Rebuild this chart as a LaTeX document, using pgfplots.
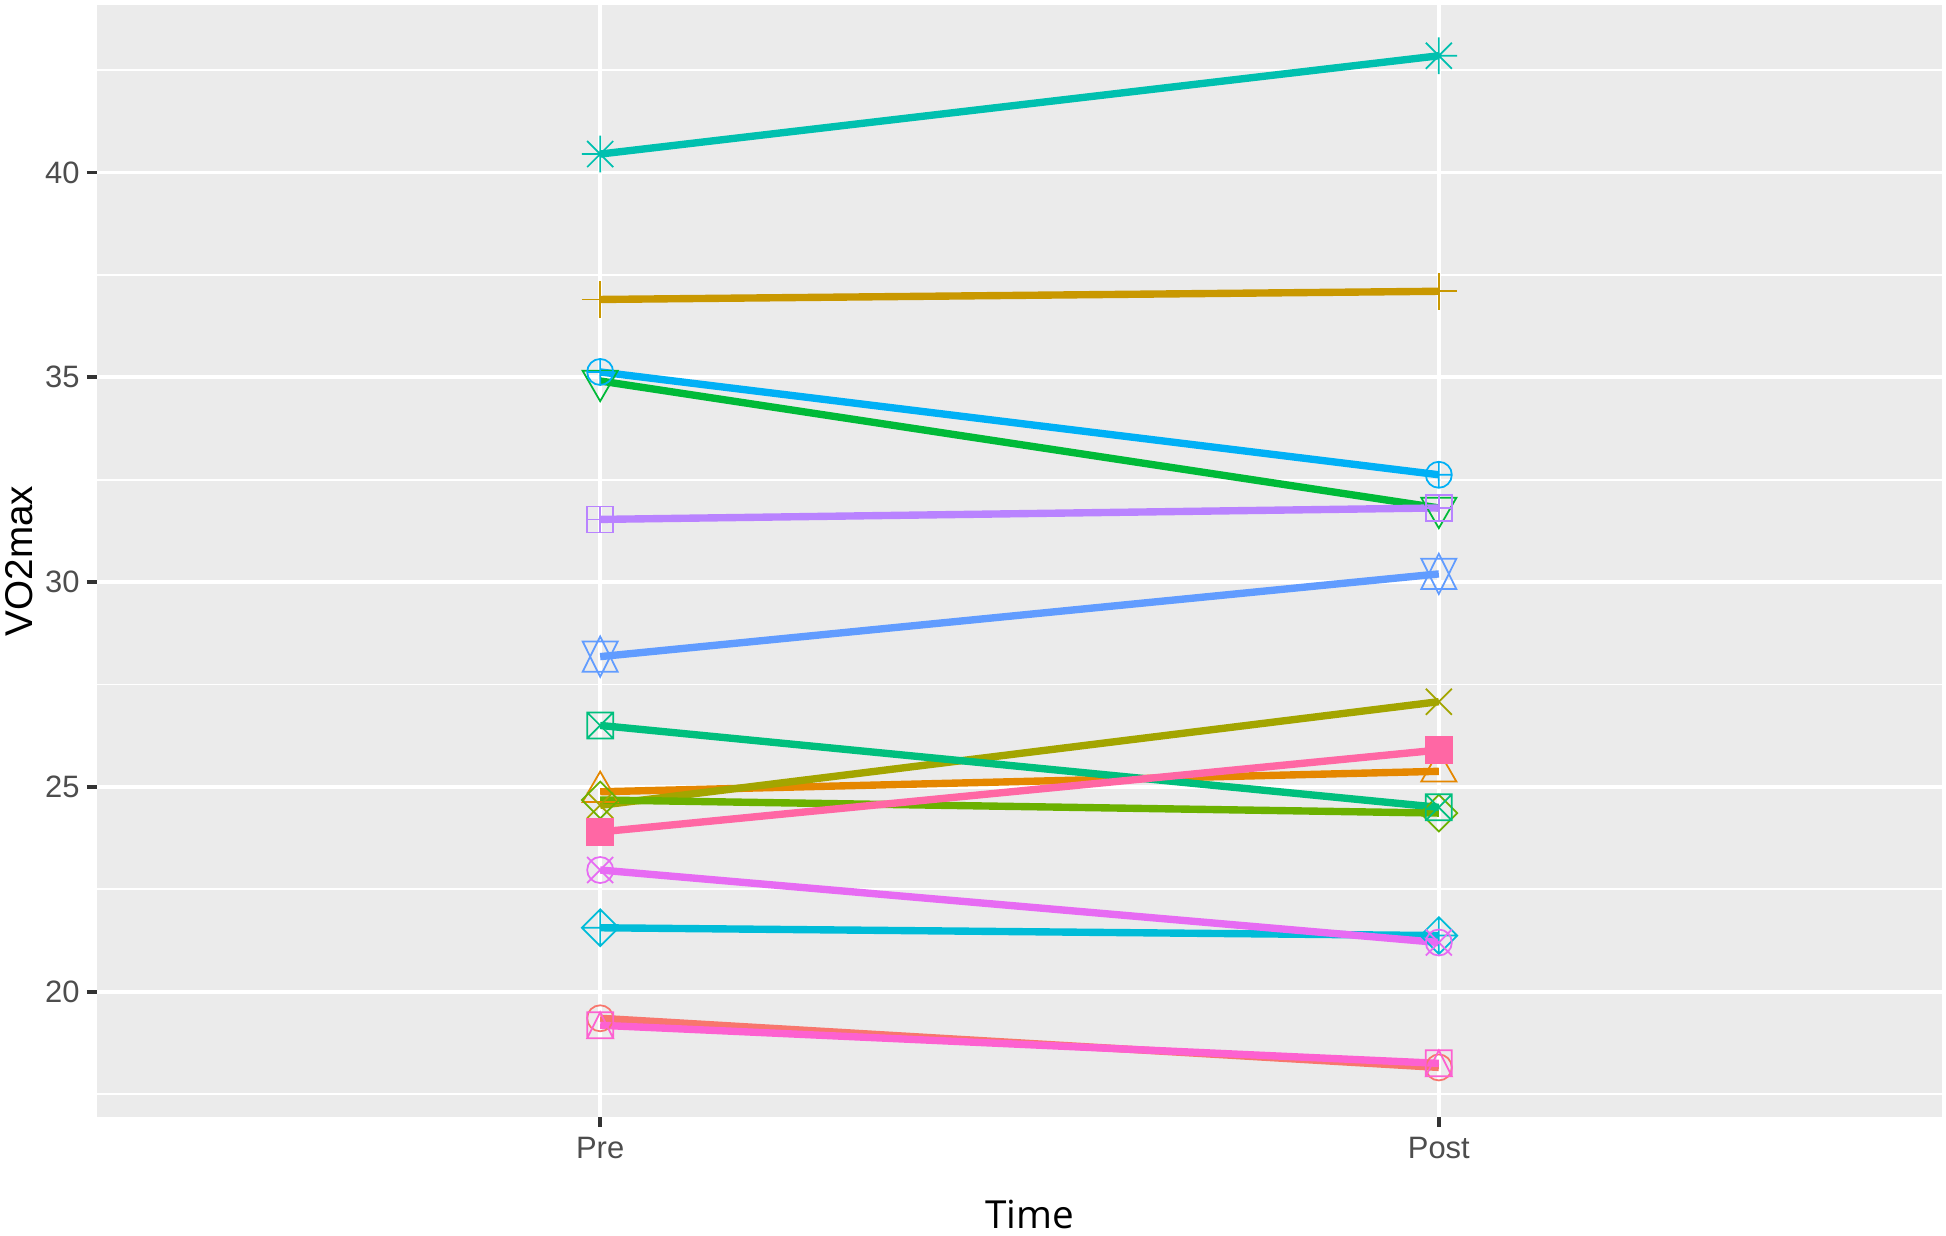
\documentclass[border=0pt]{standalone}
\usepackage{fontspec}
\setmainfont{Liberation Sans}
\newfontfamily\timefont{Open Sans}
\usepackage{pgfplots}
\usepackage{pgfplotstable}
\pgfplotsset{compat=1.18}

\definecolor{c1}{HTML}{F8766D}
\definecolor{c2}{HTML}{E58700}
\definecolor{c3}{HTML}{C99800}
\definecolor{c4}{HTML}{A3A500}
\definecolor{c5}{HTML}{6BB100}
\definecolor{c6}{HTML}{00BA38}
\definecolor{c7}{HTML}{00BF7D}
\definecolor{c8}{HTML}{00C0AF}
\definecolor{c9}{HTML}{00BCD8}
\definecolor{c10}{HTML}{00B0F6}
\definecolor{c11}{HTML}{619CFF}
\definecolor{c12}{HTML}{B983FF}
\definecolor{c13}{HTML}{E76BF3}
\definecolor{c14}{HTML}{FD61D1}
\definecolor{c15}{HTML}{FF67A4}
\definecolor{panelbg}{HTML}{EBEBEB}
\definecolor{tickc}{HTML}{333333}
\definecolor{labc}{HTML}{4D4D4D}

\newcommand{\mpt}[2]{\pgfqpoint{#1\pgfplotmarksize}{#2\pgfplotmarksize}}
% ggplot / R pch shapes 1..15
\pgfdeclareplotmark{gg1}{\pgfpathcircle{\pgfpointorigin}{\pgfplotmarksize}\pgfusepathqstroke}
\pgfdeclareplotmark{gg2}{\pgfpathmoveto{\mpt{0}{1.555}}\pgfpathlineto{\mpt{1.347}{-0.778}}\pgfpathlineto{\mpt{-1.347}{-0.778}}\pgfpathclose\pgfusepathqstroke}
\pgfdeclareplotmark{gg3}{\pgfpathmoveto{\mpt{-1.414}{0}}\pgfpathlineto{\mpt{1.414}{0}}\pgfpathmoveto{\mpt{0}{-1.414}}\pgfpathlineto{\mpt{0}{1.414}}\pgfusepathqstroke}
\pgfdeclareplotmark{gg4}{\pgfpathmoveto{\mpt{-1}{-1}}\pgfpathlineto{\mpt{1}{1}}\pgfpathmoveto{\mpt{-1}{1}}\pgfpathlineto{\mpt{1}{-1}}\pgfusepathqstroke}
\pgfdeclareplotmark{gg5}{\pgfpathmoveto{\mpt{0}{1.414}}\pgfpathlineto{\mpt{1.414}{0}}\pgfpathlineto{\mpt{0}{-1.414}}\pgfpathlineto{\mpt{-1.414}{0}}\pgfpathclose\pgfusepathqstroke}
\pgfdeclareplotmark{gg6}{\pgfpathmoveto{\mpt{0}{-1.555}}\pgfpathlineto{\mpt{1.347}{0.778}}\pgfpathlineto{\mpt{-1.347}{0.778}}\pgfpathclose\pgfusepathqstroke}
\pgfdeclareplotmark{gg7}{\pgfpathrectangle{\mpt{-1}{-1}}{\mpt{2}{2}}\pgfpathmoveto{\mpt{-1}{-1}}\pgfpathlineto{\mpt{1}{1}}\pgfpathmoveto{\mpt{-1}{1}}\pgfpathlineto{\mpt{1}{-1}}\pgfusepathqstroke}
\pgfdeclareplotmark{gg8}{\pgfpathmoveto{\mpt{-1}{-1}}\pgfpathlineto{\mpt{1}{1}}\pgfpathmoveto{\mpt{-1}{1}}\pgfpathlineto{\mpt{1}{-1}}\pgfpathmoveto{\mpt{-1.414}{0}}\pgfpathlineto{\mpt{1.414}{0}}\pgfpathmoveto{\mpt{0}{-1.414}}\pgfpathlineto{\mpt{0}{1.414}}\pgfusepathqstroke}
\pgfdeclareplotmark{gg9}{\pgfpathmoveto{\mpt{0}{1.414}}\pgfpathlineto{\mpt{1.414}{0}}\pgfpathlineto{\mpt{0}{-1.414}}\pgfpathlineto{\mpt{-1.414}{0}}\pgfpathclose\pgfpathmoveto{\mpt{-1.414}{0}}\pgfpathlineto{\mpt{1.414}{0}}\pgfpathmoveto{\mpt{0}{-1.414}}\pgfpathlineto{\mpt{0}{1.414}}\pgfusepathqstroke}
\pgfdeclareplotmark{gg10}{\pgfpathcircle{\pgfpointorigin}{\pgfplotmarksize}\pgfpathmoveto{\mpt{-1}{0}}\pgfpathlineto{\mpt{1}{0}}\pgfpathmoveto{\mpt{0}{-1}}\pgfpathlineto{\mpt{0}{1}}\pgfusepathqstroke}
\pgfdeclareplotmark{gg11}{\pgfpathmoveto{\mpt{0}{1.555}}\pgfpathlineto{\mpt{1.347}{-1.166}}\pgfpathlineto{\mpt{-1.347}{-1.166}}\pgfpathclose\pgfpathmoveto{\mpt{0}{-1.555}}\pgfpathlineto{\mpt{1.347}{1.166}}\pgfpathlineto{\mpt{-1.347}{1.166}}\pgfpathclose\pgfusepathqstroke}
\pgfdeclareplotmark{gg12}{\pgfpathrectangle{\mpt{-1}{-1}}{\mpt{2}{2}}\pgfpathmoveto{\mpt{-1}{0}}\pgfpathlineto{\mpt{1}{0}}\pgfpathmoveto{\mpt{0}{-1}}\pgfpathlineto{\mpt{0}{1}}\pgfusepathqstroke}
\pgfdeclareplotmark{gg13}{\pgfpathcircle{\pgfpointorigin}{\pgfplotmarksize}\pgfpathmoveto{\mpt{-1}{-1}}\pgfpathlineto{\mpt{1}{1}}\pgfpathmoveto{\mpt{-1}{1}}\pgfpathlineto{\mpt{1}{-1}}\pgfusepathqstroke}
\pgfdeclareplotmark{gg14}{\pgfpathrectangle{\mpt{-1}{-1}}{\mpt{2}{2}}\pgfpathmoveto{\mpt{0}{1}}\pgfpathlineto{\mpt{1}{-1}}\pgfpathlineto{\mpt{-1}{-1}}\pgfpathclose\pgfusepathqstroke}
\pgfdeclareplotmark{gg15}{\pgfpathrectangle{\mpt{-1}{-1}}{\mpt{2}{2}}\pgfusepathqfillstroke}

% Time: 0 = Pre, 1 = Post
\pgfplotstableread{
t s1 s2 s3 s4 s5 s6 s7 s8 s9 s10 s11 s12 s13 s14 s15
0 19.35 24.88 36.90 24.55 24.68 34.91 26.50 40.45 21.56 35.13 28.18 31.53 22.97 19.18 23.90
1 18.15 25.38 37.10 27.08 24.36 31.81 24.50 42.85 21.37 32.62 30.20 31.81 21.20 18.25 25.90
}\vodata

\begin{document}
\begin{tikzpicture}
\begin{axis}[
  scale only axis,
  width=18.45cm, height=11.12cm,
  xmin=-0.6, xmax=1.6, ymin=16.94, ymax=44.09,
  xtick={0,1}, xticklabels={Pre,Post},
  ytick={20,25,30,35,40},
  minor ytick={17.5,22.5,27.5,32.5,37.5,42.5},
  grid=both,
  major grid style={white, line width=1.07pt},
  minor grid style={white, line width=0.53pt},
  axis background/.style={fill=panelbg},
  axis line style={draw=none},
  tick align=outside, tick pos=left,
  major tick length=1mm, minor tick length=0pt,
  tick style={color=tickc, line width=1.07pt},
  ticklabel style={font=\fontsize{8.8}{10}\selectfont, text=labc},
  yticklabel style={xshift=0.5mm},
  xticklabel style={yshift=0.2mm},
  /pgf/number format/assume math mode=true,
  xlabel={\timefont Time},
  ylabel={VO2max},
  xlabel style={font=\fontsize{11}{13}\selectfont, at={(axis description cs:0.5,0)}, anchor=base, yshift=-11.2mm, xshift=1mm},
  ylabel style={font=\fontsize{11}{13}\selectfont, at={(axis description cs:0,0.5)}, anchor=center, rotate=0, yshift=7.8mm},
  clip=false,
]
\pgfplotsinvokeforeach{1,...,15}{
  \addplot[only marks, color=c#1, mark=gg#1, mark size=3.7pt, mark options={line width=0.5pt, fill=c#1}] table[x=t, y=s#1]{\vodata};
}
\pgfplotsinvokeforeach{1,...,15}{
  \addplot[no markers, color=c#1, line width=2.1pt] table[x=t, y=s#1]{\vodata};
}
\end{axis}
\pgfresetboundingbox
\path[use as bounding box] ([xshift=-9.7mm,yshift=-11.9mm]current axis.south west) rectangle ([xshift=0.4mm,yshift=0.5mm]current axis.north east);
\end{tikzpicture}
\end{document}
